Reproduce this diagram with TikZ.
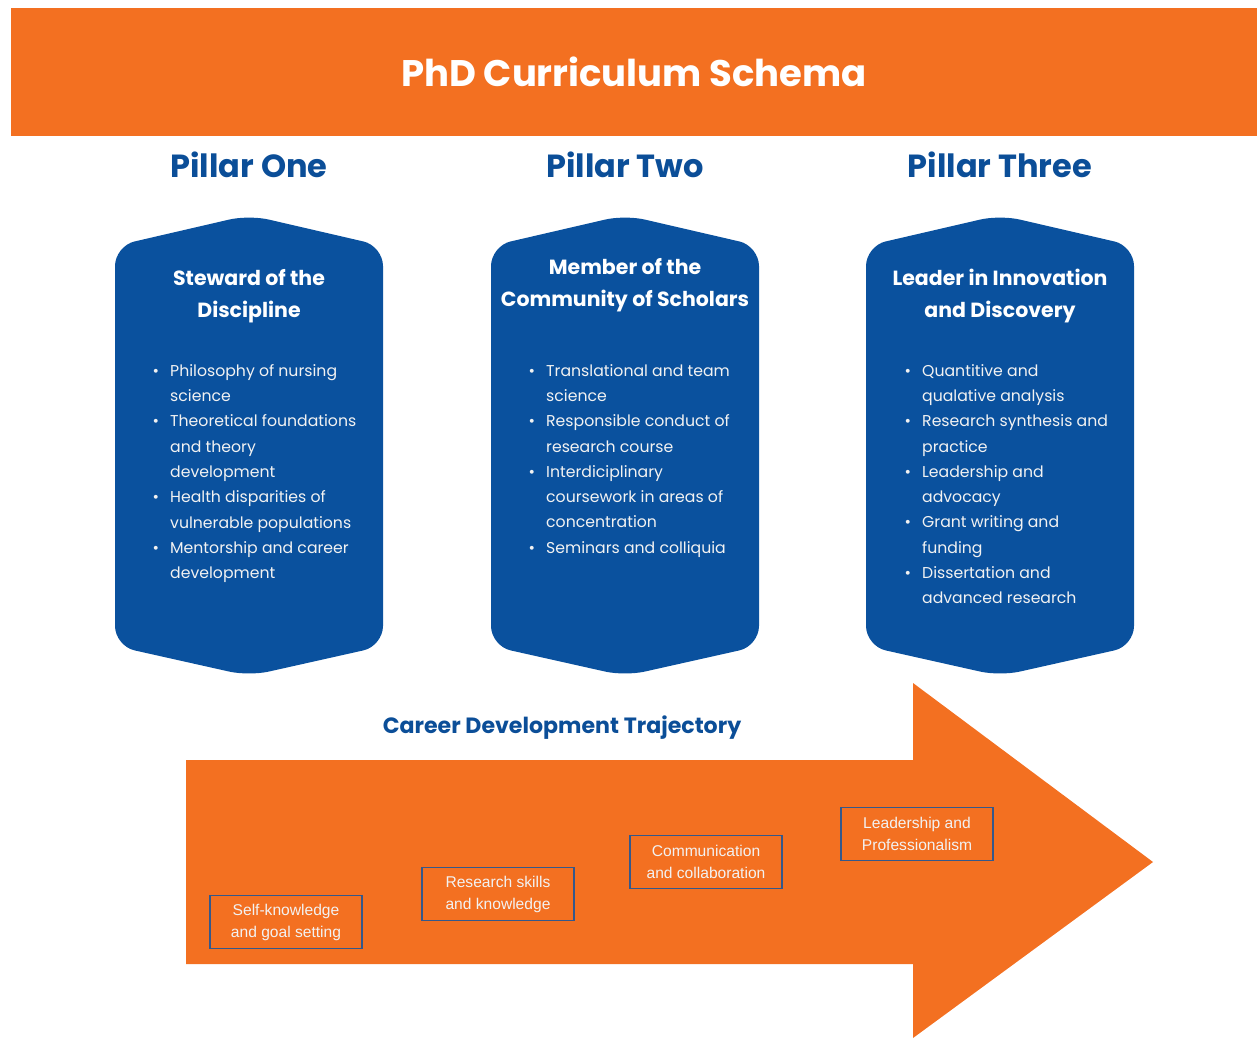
\documentclass[tikz,border=0pt]{standalone}
\usepackage{fontspec}
\setmainfont{Poppins}
\newfontfamily\arialf{Liberation Sans}
\definecolor{orng}{HTML}{F37021}
\definecolor{pblue}{HTML}{0A519E}
\definecolor{hblue}{HTML}{0B4E98}
\definecolor{bxline}{HTML}{34588C}
\definecolor{txtw}{HTML}{F2F2F2}
\tikzset{
  pillarfill/.style={fill=pblue, rounded corners=20pt},
  pillarhead/.style={text=hblue, font=\bfseries\fontsize{32}{36}\selectfont},
  pillartitle/.style={text=white, align=center, font=\bfseries\fontsize{20.5}{32}\selectfont},
  pillarbody/.style={text=txtw, align=left, anchor=north west, inner sep=0pt, font=\fontsize{15.7}{25.3}\selectfont},
  stagebox/.style={draw=bxline, line width=1.8pt, text=txtw, align=center, minimum width=152pt, minimum height=53pt, inner sep=0pt, font=\arialf\fontsize{15.6}{22}\selectfont}
}
\newcommand{\bul}{\llap{\textbullet\hspace{11pt}}}
\begin{document}
\begin{tikzpicture}[x=1pt,y=-1pt]
\useasboundingbox (0,0) rectangle (1257,1038);
% banner
\fill[orng] (11,8) rectangle (1257,136);
\node[text=white, font=\bfseries\fontsize{37}{40}\selectfont] (title) at (634,72) {PhD Curriculum Schema};
% headings
\node[pillarhead] (h1) at (249,165) {Pillar One};
\node[pillarhead] (h2) at (625,165) {Pillar Two};
\node[pillarhead] (h3) at (1000,165) {Pillar Three};
% pillar shapes
\foreach \cx in {249,625,1000}{
  \fill[pillarfill] (\cx-134,246) -- (\cx,215) -- (\cx+134,246) -- (\cx+134,646) -- (\cx,676) -- (\cx-134,646) -- cycle;
}
% pillar titles
\node[pillartitle] (t1) at (249,296) {Steward of the\\Discipline};
\node[pillartitle] (t2) at (625,285) {Member of the\\Community of Scholars};
\node[pillartitle] (t3) at (1000,296) {Leader in Innovation\\and Discovery};
% bodies
\node[pillarbody] (b1) at (170,364) {\bul Philosophy of nursing\\science\\\bul Theoretical foundations\\and theory\\development\\\bul Health disparities of\\vulnerable populations\\\bul Mentorship and career\\development};
\node[pillarbody] (b2) at (546,364) {\bul Translational and team\\science\\\bul Responsible conduct of\\research course\\\bul Interdiciplinary\\coursework in areas of\\concentration\\\bul Seminars and colliquia};
\node[pillarbody] (b3) at (922,364) {\bul Quantitive and\\qualative analysis\\\bul Research synthesis and\\practice\\\bul Leadership and\\advocacy\\\bul Grant writing and\\funding\\\bul Dissertation and\\advanced research};
% arrow
\fill[orng] (186,760) -- (913,760) -- (913,683) -- (1153,862) -- (913,1038) -- (913,964) -- (186,964) -- cycle;
\node[text=hblue, font=\bfseries\fontsize{22.1}{25}\selectfont] (cdt) at (562,728) {Career Development Trajectory};
% stage boxes
\node[stagebox] (s1) at (286,922) {Self-knowledge\\and goal setting};
\node[stagebox] (s2) at (498,894) {Research skills\\and knowledge};
\node[stagebox] (s3) at (706,862) {Communication\\and collaboration};
\node[stagebox] (s4) at (917,834) {Leadership and\\Professionalism};
\end{tikzpicture}
\end{document}
